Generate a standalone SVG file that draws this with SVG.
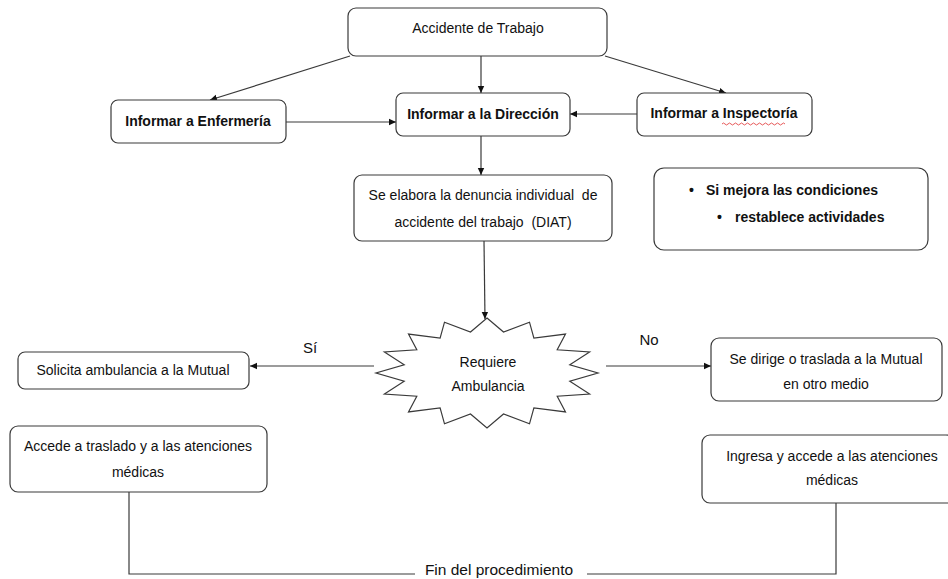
<svg xmlns="http://www.w3.org/2000/svg" width="948" height="579" viewBox="0 0 948 579">
<style>
.box{fill:#fff;stroke:#3a3a3a;stroke-width:1.2}
.t{font-family:"Liberation Sans",Arial,sans-serif;font-size:14px;fill:#111;text-anchor:middle}
.b{font-weight:bold;font-size:14px}
.pre{white-space:pre}
.ln{fill:none;stroke:#3a3a3a;stroke-width:1.2}
</style>
<defs>
<marker id="ah" markerWidth="8" markerHeight="8" refX="7" refY="4" orient="auto" markerUnits="userSpaceOnUse">
<path d="M0,0.8 L7,4 L0,7.2 Z" fill="#111"/>
</marker>
</defs>
<rect width="948" height="579" fill="#fff"/>

<g id="connectors">
<line class="ln" x1="350" y1="56" x2="210" y2="100" marker-end="url(#ah)"/>
<line class="ln" x1="481" y1="56" x2="481" y2="93" marker-end="url(#ah)"/>
<line class="ln" x1="605" y1="56" x2="726" y2="93" marker-end="url(#ah)"/>
<line class="ln" x1="286" y1="122" x2="396" y2="122" marker-end="url(#ah)"/>
<line class="ln" x1="637" y1="114" x2="570" y2="114" marker-end="url(#ah)"/>
<line class="ln" x1="481" y1="136" x2="481" y2="175" marker-end="url(#ah)"/>
<line class="ln" x1="484" y1="241" x2="485" y2="319" marker-end="url(#ah)"/>
<line class="ln" x1="374" y1="366" x2="250" y2="366" marker-end="url(#ah)"/>
<line class="ln" x1="606" y1="366" x2="711" y2="366" marker-end="url(#ah)"/>
<polyline class="ln" points="129,492 129,574 415,574"/>
<polyline class="ln" points="587,574 836,574 836,503"/>
<text class="t" x="310" y="353" style="font-size:15px">Sí</text>
<text class="t" x="649" y="345" style="font-size:15px">No</text>
<text class="t" x="499" y="575" style="font-size:15.5px">Fin del procedimiento</text>
</g>

<g id="accidente">
<rect class="box" x="348" y="8" width="259" height="48" rx="8"/>
<text class="t" x="478" y="33">Accidente de Trabajo</text>
</g>

<g id="enfermeria">
<rect class="box" x="111" y="100" width="175" height="43" rx="7"/>
<text class="t b" x="198" y="126">Informar a Enfermería</text>
</g>

<g id="direccion">
<rect class="box" x="396" y="93" width="174" height="43" rx="7"/>
<text class="t b" x="483" y="119">Informar a la Dirección</text>
</g>

<g id="inspectoria">
<rect class="box" x="637" y="93" width="175" height="43" rx="7"/>
<text class="t b" x="724" y="118">Informar a Inspectoría</text>
<path d="M722,124 q1.5,-2 3,0 t3,0 t3,0 t3,0 t3,0 t3,0 t3,0 t3,0 t3,0 t3,0 t3,0 t3,0 t3,0 t3,0 t3,0 t3,0 t3,0 t3,0 t3,0 t3,0 t3,0" fill="none" stroke="#e03030" stroke-width="0.8"/>
</g>

<g id="diat">
<rect class="box" x="354" y="175" width="258" height="66" rx="8"/>
<text class="t pre" x="483" y="200">Se elabora la denuncia individual  de</text>
<text class="t pre" x="483" y="227">accidente del trabajo  (DIAT)</text>
</g>

<g id="condiciones">
<rect class="box" x="654" y="168" width="274" height="82" rx="10"/>
<text class="t b" x="689" y="195" style="text-anchor:start">•</text>
<text class="t b" x="706" y="195" style="text-anchor:start">Si mejora las condiciones</text>
<text class="t b" x="717" y="222" style="text-anchor:start">•</text>
<text class="t b" x="735" y="222" style="text-anchor:start">restablece actividades</text>
</g>

<g id="ambulancia">
<polygon class="box" points="487,318 503.5,332 529.5,322.2 533.9,338.2 565.5,334.1 557.2,349.8 589.6,351.9 569.8,364.8 598,373 569.8,381.2 589.6,394 557.2,396.2 565.5,411.9 533.9,407.8 529.5,423.8 503.5,414 487,428 470.5,414 444.5,423.8 440.1,407.8 408.5,411.9 416.8,396.2 384.4,394 404.2,381.2 376,373 404.2,364.8 384.4,351.9 416.8,349.8 408.5,334.1 440.1,338.2 444.5,322.2 470.5,332"/>
<text class="t" x="488" y="367">Requiere</text>
<text class="t" x="488" y="391">Ambulancia</text>
</g>

<g id="solicita">
<rect class="box" x="18" y="352" width="231" height="37" rx="7"/>
<text class="t" x="133" y="375">Solicita ambulancia a la Mutual</text>
</g>

<g id="dirige">
<rect class="box" x="711" y="338" width="231" height="63" rx="8"/>
<text class="t" x="826" y="364">Se dirige o traslada a la Mutual</text>
<text class="t" x="826" y="389">en otro medio</text>
</g>

<g id="accede">
<rect class="box" x="10" y="426" width="257" height="66" rx="8"/>
<text class="t" x="138" y="451">Accede a traslado y a las atenciones</text>
<text class="t" x="138" y="477">médicas</text>
</g>

<g id="ingresa">
<rect class="box" x="702" y="435" width="252" height="68" rx="8"/>
<text class="t" x="832" y="461">Ingresa y accede a las atenciones</text>
<text class="t" x="832" y="485">médicas</text>
</g>
</svg>
